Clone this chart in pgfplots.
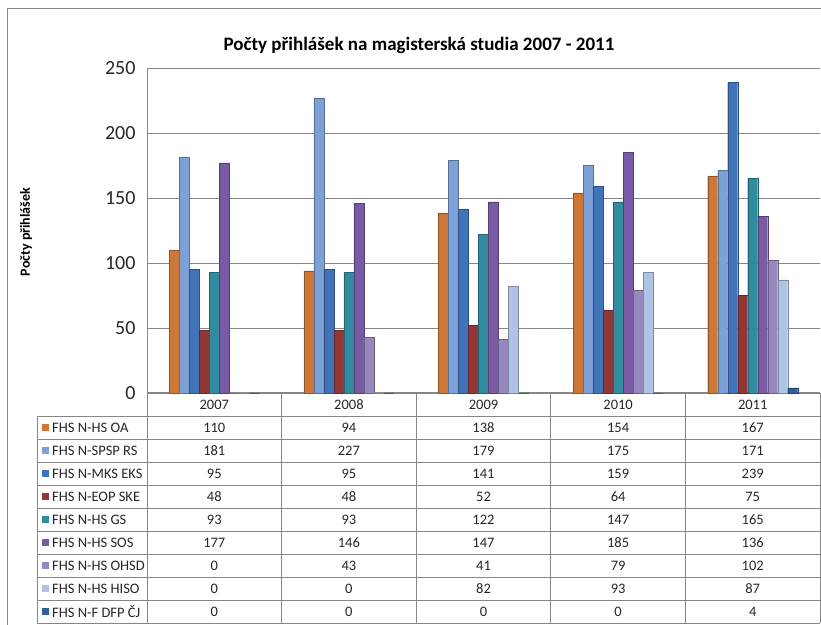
\documentclass[border=0pt]{standalone}
\usepackage{fontspec}
\setmainfont{Carlito}
\usepackage{pgfplots}
\usepackage{pgfplotstable}
\pgfplotsset{compat=1.18}

\definecolor{cOA}{RGB}{205,120,55}
\definecolor{cSPSP}{RGB}{125,160,215}
\definecolor{cMKS}{RGB}{65,115,185}
\definecolor{cEOP}{RGB}{145,55,55}
\definecolor{cGS}{RGB}{50,140,160}
\definecolor{cSOS}{RGB}{120,90,165}
\definecolor{cOHSD}{RGB}{150,135,190}
\definecolor{cHISO}{RGB}{175,195,228}
\definecolor{cDFP}{RGB}{45,95,155}
\definecolor{frame}{RGB}{134,134,134}

% prihlasky podle oboru a roku
\pgfplotstableread{
idx year OA SPSP MKS EOP GS SOS OHSD HISO DFP
0 2007 110 181 95 48 93 177 0 0 0
1 2008 94 227 95 48 93 146 43 0 0
2 2009 138 179 141 52 122 147 41 82 0
3 2010 154 175 159 64 147 185 79 93 0
4 2011 167 171 239 75 165 136 102 87 4
}\datatable

\tikzset{bar/.style={fill=#1, draw=#1!70!black, line width=0.4pt}}

\begin{document}
\begin{tikzpicture}
\useasboundingbox (0,0) rectangle (821bp,625bp);
\draw[frame, line width=1bp] (7bp,0) -- (7bp,616bp) -- (821bp,616bp);

\begin{axis}[
    at={(147bp,232bp)}, anchor=south west,
    scale only axis, width=673bp, height=325bp,
    xmin=-0.5, xmax=4.5, ymin=0, ymax=250,
    ytick={0,50,...,250}, xtick=\empty,
    ybar=0pt, bar width=10bp,
    ymajorgrids, grid style={frame, line width=0.8bp},
    axis x line*=bottom, axis y line*=left,
    axis line style={frame, line width=1bp, -},
    major tick length=0pt,
    yticklabel style={font=\fontsize{20bp}{22bp}\selectfont, text=black!85, xshift=-8bp},
    /pgf/number format/assume math mode=true,
    clip=false]
\addplot[bar=cOA] table[x=idx, y=OA] {\datatable};
\addplot[bar=cSPSP] table[x=idx, y=SPSP] {\datatable};
\addplot[bar=cMKS] table[x=idx, y=MKS] {\datatable};
\addplot[bar=cEOP] table[x=idx, y=EOP] {\datatable};
\addplot[bar=cGS] table[x=idx, y=GS] {\datatable};
\addplot[bar=cSOS] table[x=idx, y=SOS] {\datatable};
\addplot[bar=cOHSD] table[x=idx, y=OHSD] {\datatable};
\addplot[bar=cHISO] table[x=idx, y=HISO] {\datatable};
\addplot[bar=cDFP] table[x=idx, y=DFP] {\datatable};
\end{axis}

\node[font=\fontsize{19bp}{21bp}\selectfont\bfseries] at (419bp,580bp) {Počty přihlášek na magisterská studia 2007 - 2011};
\node[font=\fontsize{14bp}{16bp}\selectfont\bfseries, rotate=90] at (26bp,393bp) {Počty přihlášek};

% datova tabulka pod grafem
\begin{scope}[frame, line width=0.9bp]
\foreach \i in {0,...,9} \draw (37bp,209bp-\i*23bp) -- (820bp,209bp-\i*23bp);
\draw (37bp,209bp) -- (37bp,2bp);
\foreach \k in {0,...,5} \draw (147bp+\k*134.6bp,232bp) -- (147bp+\k*134.6bp,2bp);
\end{scope}
\foreach \k/\yr in {0/2007,1/2008,2/2009,3/2010,4/2011}
  \node[font=\fontsize{14.5bp}{16bp}\selectfont, text=black!85] at (214.3bp+\k*134.6bp,220.5bp) {\yr};
\foreach \s/\name/\col [count=\r from 0] in {OA/FHS N-HS OA/cOA, SPSP/FHS N-SPSP RS/cSPSP, MKS/FHS N-MKS EKS/cMKS, EOP/FHS N-EOP SKE/cEOP, GS/FHS N-HS GS/cGS, SOS/FHS N-HS SOS/cSOS, OHSD/FHS N-HS OHSD/cOHSD, HISO/FHS N-HS HISO/cHISO, DFP/FHS N-F DFP ČJ/cDFP} {
  \fill[\col] (42bp,194bp-\r*23bp) rectangle (49bp,201bp-\r*23bp);
  \node[anchor=west, font=\fontsize{14.5bp}{16bp}\selectfont, text=black!85, inner sep=0pt] at (52bp,197.5bp-\r*23bp) {\name};
  \foreach \k in {0,...,4} {
    \pgfplotstablegetelem{\k}{\s}\of\datatable
    \node[font=\fontsize{14.5bp}{16bp}\selectfont, text=black!85] at (214.3bp+\k*134.6bp,197.5bp-\r*23bp) {\pgfplotsretval};
  }
}
\end{tikzpicture}
\end{document}
